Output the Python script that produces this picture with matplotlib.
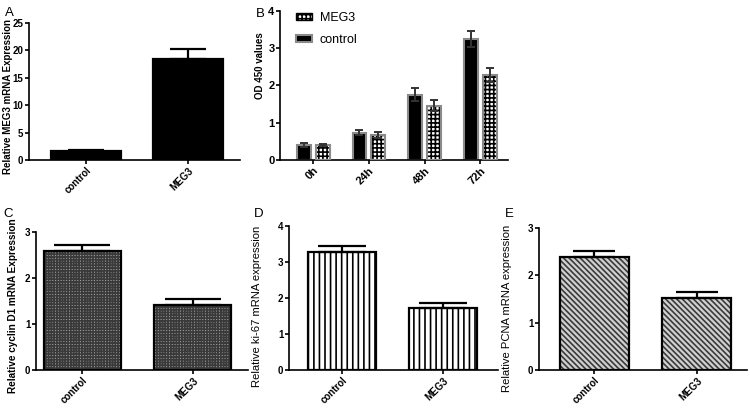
import numpy as np
import matplotlib
matplotlib.use('Agg')
import matplotlib.pyplot as plt
from matplotlib.patches import Patch

plt.rcParams['font.family'] = ['Liberation Sans', 'DejaVu Sans']
plt.rcParams['hatch.linewidth'] = 1.2

groups = ['control', 'MEG3']

# panel A
meg3_expr = [1.6, 18.4]
meg3_expr_err = [0.2, 1.8]

# panel B
hours = ['0h', '24h', '48h', '72h']
od_control = [0.40, 0.73, 1.75, 3.25]
od_control_err = [0.05, 0.07, 0.18, 0.22]
od_meg3 = [0.41, 0.67, 1.46, 2.28]
od_meg3_err = [0.03, 0.08, 0.15, 0.18]

# panels C, D, E
cyclin = [2.58, 1.42]
cyclin_err = [0.13, 0.12]
ki67 = [3.27, 1.72]
ki67_err = [0.18, 0.13]
pcna = [2.38, 1.53]
pcna_err = [0.14, 0.11]

fig = plt.figure(figsize=(7.5, 4.12), dpi=100)


def style_axes(ax, ymax, ystep, xlim, fs=7):
    ax.spines['top'].set_visible(False)
    ax.spines['right'].set_visible(False)
    ax.spines['left'].set_linewidth(1.2)
    ax.spines['bottom'].set_linewidth(1.2)
    ax.set_ylim(0, ymax)
    ax.set_yticks(np.arange(0, ymax + 0.01, ystep))
    ax.set_xlim(*xlim)
    ax.tick_params(width=1.2, length=3, labelsize=fs, pad=1)
    for lab in ax.get_yticklabels():
        lab.set_fontweight('bold')


def simple_panel(rect, vals, errs, ylabel, ymax, ystep, xlim, width, cap,
                 face, hatch=None, hcolor='black', lab_xy=(-0.08, 0.5), lab_fs=7,
                 lab_w='bold'):
    ax = fig.add_axes(rect)
    x = np.arange(len(groups))
    ax.bar(x, vals, width, color=face, edgecolor=hcolor, hatch=hatch, linewidth=0, zorder=2)
    ax.bar(x, vals, width, fill=False, edgecolor='black', linewidth=1.6, zorder=3)
    ax.errorbar(x, vals, yerr=[np.zeros(len(vals)), errs], fmt='none', ecolor='black',
                elinewidth=1.6, capsize=cap, capthick=1.6, zorder=4)
    style_axes(ax, ymax, ystep, xlim)
    ax.set_xticks(x)
    ax.set_xticklabels(groups, rotation=45, ha='right', rotation_mode='anchor',
                       fontsize=7, fontweight='bold')
    ax.set_ylabel(ylabel, fontsize=lab_fs, fontweight=lab_w)
    ax.yaxis.set_label_coords(*lab_xy)
    return ax


# A
simple_panel([0.0387, 0.6117, 0.2813, 0.3325], meg3_expr, meg3_expr_err,
             'Relative MEG3 mRNA Expression', 25, 5, (-0.56, 1.51), 0.69, 13,
             'black', lab_xy=(-0.076, 0.46), lab_fs=7)

# C
simple_panel([0.048, 0.1019, 0.2827, 0.335], cyclin, cyclin_err,
             'Relative cyclin D1 mRNA Expression', 3, 1, (-0.42, 1.5), 0.70, 20,
             '#a0a0a0', hatch='++++++', hcolor='#3a3a3a', lab_xy=(-0.085, 0.467),
             lab_fs=7.2)

# D
simple_panel([0.3853, 0.1019, 0.2787, 0.3495], ki67, ki67_err,
             'Relative ki-67 mRNA expression', 4, 1, (-0.52, 1.54), 0.67, 17.5,
             'white', hatch='|||', hcolor='black', lab_xy=(-0.129, 0.444), lab_fs=8.1,
             lab_w='normal')

# E
simple_panel([0.7187, 0.1019, 0.2773, 0.3447], pcna, pcna_err,
             'Relative PCNA mRNA expression', 3, 1, (-0.54, 1.49), 0.67, 15,
             '#d0d0d0', hatch='\\\\\\\\\\\\', hcolor='#3a3a3a', lab_xy=(-0.13, 0.437),
             lab_fs=8.1, lab_w='normal')

# B
axb = fig.add_axes([0.3733, 0.6117, 0.304, 0.3617])
xb = np.arange(len(hours))
bw = 0.25
off = 0.17
axb.bar(xb - off, od_control, bw, color='black', edgecolor='#8a8a8a', linewidth=1.5, zorder=2)
axb.bar(xb + off, od_meg3, bw, color='white', edgecolor='black', hatch='++++', linewidth=0, zorder=2)
axb.bar(xb + off, od_meg3, bw, fill=False, edgecolor='#8a8a8a', linewidth=1.5, zorder=3)
axb.errorbar(xb - off, od_control, yerr=od_control_err, fmt='none', ecolor='#333333',
             elinewidth=1.4, capsize=3, capthick=1.4, zorder=4)
axb.errorbar(xb + off, od_meg3, yerr=od_meg3_err, fmt='none', ecolor='#333333',
             elinewidth=1.4, capsize=3, capthick=1.4, zorder=4)
style_axes(axb, 4, 1, (-0.6, 3.5), fs=8)
axb.set_xticks(xb)
axb.set_xticklabels(hours, rotation=45, ha='right', rotation_mode='anchor',
                    fontsize=8, fontweight='bold')
axb.set_ylabel('OD 450 values', fontsize=7, fontweight='bold')
axb.yaxis.set_label_coords(-0.066, 0.63)
handles = [Patch(facecolor='white', edgecolor='black', hatch='++++'),
           Patch(facecolor='black', edgecolor='#8a8a8a', linewidth=1.5)]
axb.legend(handles, ['MEG3', 'control'], loc='upper left', bbox_to_anchor=(0.02, 1.07),
           frameon=False, fontsize=9, handlelength=1.3, handleheight=0.55, labelspacing=0.8,
           handletextpad=0.6)

# panel letters
fig.text(0.007, 0.962, 'A', fontsize=9.5)
fig.text(0.341, 0.959, 'B', fontsize=9.5)
fig.text(0.004, 0.473, 'C', fontsize=9.5)
fig.text(0.339, 0.473, 'D', fontsize=9.5)
fig.text(0.673, 0.473, 'E', fontsize=9.5)

fig.savefig('out.png', dpi=100)
